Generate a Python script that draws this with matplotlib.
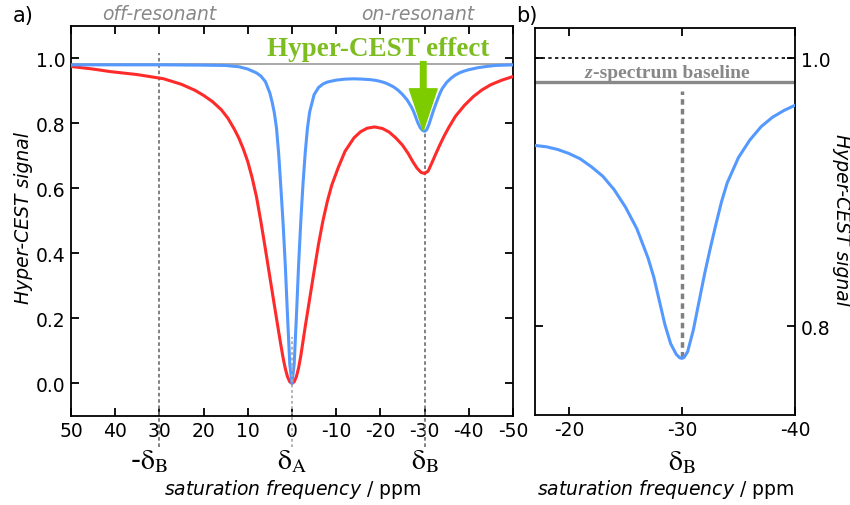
import matplotlib
matplotlib.use("Agg")
import matplotlib.pyplot as plt

plt.rcParams['axes.unicode_minus'] = False

# Hyper-CEST z-spectrum, signal vs saturation frequency (ppm)
blue_ppm = [50, 40, 30, 20, 15, 12, 10, 8, 7, 6, 5, 4.5, 4, 3.5, 3, 2.5, 2, 1.5, 1, 0.5, 0,
            -0.5, -1, -1.5, -2, -2.5, -3, -3.5, -4, -5, -6, -7, -8, -10, -12, -14, -16,
            -17, -18, -19, -20, -21, -22, -23, -24, -25, -26, -27, -27.5, -28, -28.5, -29,
            -29.5, -29.8, -30, -30.2, -30.5, -31, -31.5, -32, -32.5, -33, -33.5, -34, -35,
            -36, -37, -38, -39, -40, -42, -44, -46, -50]
blue_sig = [0.980, 0.980, 0.980, 0.979, 0.978, 0.974, 0.967, 0.955, 0.945, 0.928, 0.893, 0.866,
            0.833, 0.785, 0.705, 0.600, 0.490, 0.360, 0.205, 0.060, 0.000,
            0.060, 0.205, 0.365, 0.500, 0.615, 0.710, 0.785, 0.835, 0.888, 0.910, 0.921, 0.927,
            0.933, 0.936, 0.937, 0.936,
            0.935, 0.934, 0.932, 0.929, 0.925, 0.919, 0.912, 0.902, 0.889, 0.873, 0.851, 0.837,
            0.819, 0.801, 0.787, 0.779, 0.7765, 0.776, 0.7768, 0.781, 0.797, 0.818, 0.839,
            0.858, 0.876, 0.893, 0.907, 0.926, 0.939, 0.949, 0.956, 0.961, 0.965, 0.971,
            0.975, 0.978, 0.980]

red_ppm = [50, 45, 41, 35, 29, 25, 22, 20, 18, 16, 14.5, 13, 12, 11, 10, 9, 8, 7, 6, 5, 4, 3,
           2.5, 2, 1.5, 1, 0.5, 0,
           -0.5, -1, -1.5, -2, -3, -4, -5, -6, -7, -8, -9, -10.5, -12, -14, -15.5, -17, -18.7,
           -20.5, -22, -23.5, -25, -26.3, -27.3, -28.3, -29.2, -30, -30.8, -31.6, -32.5, -33.5,
           -34.5, -35.5, -37, -39, -41, -43, -45, -47.5, -50]
red_sig = [0.975, 0.967, 0.959, 0.950, 0.937, 0.920, 0.902, 0.886, 0.867, 0.842, 0.816, 0.781,
           0.754, 0.721, 0.682, 0.632, 0.572, 0.495, 0.412, 0.327, 0.242, 0.158,
           0.117, 0.078, 0.045, 0.020, 0.005, 0.000,
           0.005, 0.021, 0.048, 0.085, 0.175, 0.260, 0.345, 0.428, 0.500, 0.560, 0.610, 0.665,
           0.714, 0.755, 0.774, 0.785, 0.789, 0.784, 0.773, 0.755, 0.733, 0.707, 0.683, 0.662,
           0.649, 0.646, 0.653, 0.677, 0.705, 0.735, 0.763, 0.788, 0.822, 0.855, 0.882, 0.903,
           0.919, 0.933, 0.944]

baseline = 0.982
pool_A = 0
pool_B = -30
xticks_a = [50, 40, 30, 20, 10, 0, -10, -20, -30, -40, -50]
yticks_a = [0.0, 0.2, 0.4, 0.6, 0.8, 1.0]
xticks_b = [-20, -30, -40]
yticks_b = [0.8, 1.0]

blue = '#5599ff'
red = '#ff2a2a'
green_txt = '#7dbd22'
green_arrow = '#7ccc00'
fs = 13.5

fig = plt.figure(figsize=(8.5, 5.06), dpi=100)
ax = fig.add_axes([0.0835, 0.176, 0.520, 0.771])
ax2 = fig.add_axes([0.6294, 0.1785, 0.3059, 0.764])

for a in (ax, ax2):
    for s in a.spines.values():
        s.set_linewidth(1.3)
    a.tick_params(direction='in', top=True, right=True, length=5.5, width=1.3,
                  labelsize=fs, pad=4)

# ---- panel a ----
ax.axhline(baseline, color='#999999', lw=1.2, zorder=1)
ax.plot(red_ppm, red_sig, color=red, lw=2.2, zorder=3)
ax.plot(blue_ppm, blue_sig, color=blue, lw=2.2, zorder=4)

ax.plot([-pool_B, -pool_B], [-0.195, 1.015], color='#777777', lw=1.3,
        dashes=(2, 1.5), clip_on=False, zorder=2)
ax.plot([pool_B, pool_B], [-0.195, 0.776], color='#777777', lw=1.3,
        dashes=(2, 1.5), clip_on=False, zorder=2)
ax.plot([pool_A, pool_A], [-0.195, 0.143], color='#aaaaaa', lw=1.3,
        dashes=(1.5, 1.5), clip_on=False, zorder=5)

ax.set_xlim(50, -50)
ax.set_ylim(-0.1, 1.1)
ax.set_xticks(xticks_a)
ax.set_yticks(yticks_a)
ax.set_yticklabels([f'{v:.1f}' for v in yticks_a])

ax.annotate('', xy=(pool_B + 0.3, 0.778), xytext=(pool_B + 0.3, 0.99),
            arrowprops=dict(arrowstyle='simple,head_length=1.5,head_width=1.0,tail_width=0.2',
                            color=green_arrow, shrinkA=0, shrinkB=0,
                            mutation_scale=20), zorder=6)
ax.text(-19.6, 1.01, 'Hyper-CEST effect', family='Liberation Serif', weight='bold',
        size=19.5, color=green_txt, ha='center', va='baseline', zorder=7)

tr = ax.get_xaxis_transform()
ax.text(32.3, -0.115, r'-$\mathrm{\delta}_\mathrm{B}$', transform=tr, ha='center',
        va='center', size=20, math_fontfamily='stix')
ax.text(pool_A, -0.115, r'$\mathrm{\delta}_\mathrm{A}$', transform=tr, ha='center',
        va='center', size=20, math_fontfamily='stix')
ax.text(pool_B, -0.115, r'$\mathrm{\delta}_\mathrm{B}$', transform=tr, ha='center',
        va='center', size=20, math_fontfamily='stix')
ax.text(0.5, -0.187, r'$\mathit{saturation\ frequency}$ / ppm', transform=ax.transAxes,
        ha='center', va='center', size=fs)
ax.text(-0.108, 0.51, 'Hyper-CEST signal', transform=ax.transAxes, rotation=90,
        ha='center', va='center', size=fs, style='italic')
ax.text(30, 1.137, 'off-resonant', transform=ax.transData, ha='center', va='center',
        size=fs, style='italic', color='#888888', clip_on=False)
ax.text(-28.5, 1.137, 'on-resonant', transform=ax.transData, ha='center', va='center',
        size=fs, style='italic', color='#888888', clip_on=False)
fig.text(0.027, 0.968, 'a)', size=15, ha='center', va='center')
fig.text(0.620, 0.968, 'b)', size=15, ha='center', va='center')

# ---- panel b ----
ax2.axhline(1.0, color='black', lw=1.2, dashes=(2, 2), zorder=1)
ax2.axhline(baseline, color='#888888', lw=2.4, zorder=1)
ax2.plot([pool_B, pool_B], [0.777, 0.9756], color='#808080', lw=2.5,
         dashes=(1.6, 1.2), zorder=2)
ax2.plot(blue_ppm, blue_sig, color=blue, lw=2.2, zorder=3)
ax2.text(-22.1, 0.9862, 'z', family='Liberation Serif', weight='bold', style='italic',
         size=14, color='#888888', ha='right', va='baseline')
ax2.text(-22.1, 0.9862, '-spectrum baseline', family='Liberation Serif', weight='bold',
         size=14, color='#888888', ha='left', va='baseline')

ax2.set_xlim(-17, -40)
ax2.set_ylim(0.734, 1.0226)
ax2.set_xticks(xticks_b)
ax2.set_yticks(yticks_b)
ax2.set_yticklabels([f'{v:.1f}' for v in yticks_b])
ax2.tick_params(labelleft=False, labelright=True)

tr2 = ax2.get_xaxis_transform()
ax2.text(pool_B, -0.12, r'$\mathrm{\delta}_\mathrm{B}$', transform=tr2, ha='center',
         va='center', size=20, math_fontfamily='stix')
ax2.text(0.5, -0.192, r'$\mathit{saturation\ frequency}$ / ppm', transform=ax2.transAxes,
         ha='center', va='center', size=fs)
ax2.text(1.18, 0.506, 'Hyper-CEST signal', transform=ax2.transAxes, rotation=-90,
         ha='center', va='center', size=fs, style='italic')

fig.savefig('out.png', dpi=100)
